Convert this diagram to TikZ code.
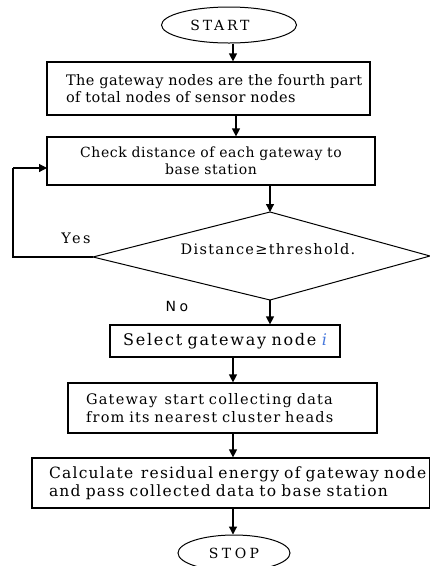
\documentclass[tikz,border=0pt]{standalone}
\usepackage{fontspec}
\setmainfont{DejaVu Serif}
\newfontfamily\labsans{DejaVu Sans}
\usetikzlibrary{arrows.meta,shapes.geometric}
\definecolor{iblue}{RGB}{70,120,220}
\newcommand{\fsz}[2]{\fontsize{#1}{17.5}\selectfont\addfontfeature{LetterSpace=#2}}
\tikzset{
  box/.style={draw=black,line width=1.2pt,rectangle,inner ysep=0pt},
  term/.style={draw=black,line width=1pt,ellipse,inner sep=0pt},
  arr/.style={draw=black,line width=1.2pt,-{Triangle[length=8pt,width=8pt]}},
  ln/.style={draw=black,line width=1.2pt},
  lab/.style={inner sep=0pt}
}
\begin{document}
\begin{tikzpicture}[x=1pt,y=-1pt]
\useasboundingbox (0,0) rectangle (430,566);
\fill[white] (0,0) rectangle (430,566);
\node[term,minimum width=135pt,minimum height=36pt,font=\fsz{14}{20}] (start) at (229,25) {START\hspace*{18pt}};
\node[box,inner xsep=19pt,text width=285pt,align=left,minimum height=53pt,font=\fsz{14.5}{3}] (b1) at (208.5,88.5)
  {\mbox{The gateway nodes are the fourth part}\\\mbox{of total nodes of sensor nodes}};
\node[box,inner xsep=16pt,text width=296pt,align=center,minimum height=48pt,font=\fsz{14}{4.5}] (b2) at (211,161)
  {Check distance of each gateway to\\base station};
\coordinate (dt) at (270,212);
\coordinate (dr) at (430,256);
\coordinate (db) at (270,300);
\coordinate (dl) at (93,257);
\draw[line width=1pt] (dt) -- (dr) -- (db) -- (dl) -- cycle;
\node[lab,font=\fsz{14.5}{9}] (dtxt) at (268,249) {Distance≥threshold.};
\node[lab,font=\fsz{14.5}{17}] (yes) at (76,238) {Yes};
\node[lab,font=\labsans\fontsize{14}{16}\selectfont\addfontfeature{LetterSpace=25}] (no) at (177,306) {No};
\node[box,inner xsep=8pt,text width=214pt,align=center,minimum height=32pt,font=\fsz{16}{11}] (sel) at (225,341)
  {Select gateway node {\color{iblue}\itshape i}};
\node[box,inner xsep=18pt,text width=273pt,align=left,minimum height=50pt,font=\fsz{14.5}{8.5}] (b3) at (222.5,408)
  {\mbox{Gateway\, start collecting data}\\\mbox{from its nearest cluster heads}};
\node[box,inner xsep=17pt,text width=364pt,align=left,minimum height=50pt,font=\fsz{15.5}{8}] (b4) at (231,483)
  {\mbox{Calculate\, residual energy of gateway node}\\\mbox{and pass collected data to base station}};
\node[term,minimum width=112pt,minimum height=36pt,font=\fsz{14}{25}] (stop) at (234,553) {STOP};
\coordinate (b2in) at (47,168);
\coordinate (lc1) at (13,257);
\coordinate (lc2) at (13,168);
\draw[arr] (start.south -| 233,0) -- (b1.north -| 233,0);
\draw[arr] (b1.south -| 236,0) -- (b2.north -| 236,0);
\draw[arr] (b2.south -| dt) -- (dt);
\draw[ln] (dl) -- (lc1) -- (lc2);
\draw[arr] (lc2) -- (b2in);
\draw[arr] (db) -- (sel.north -| db);
\draw[arr] (sel.south -| 233,0) -- (b3.north -| 233,0);
\draw[arr] (b3.south -| 233,0) -- (b4.north -| 233,0);
\draw[arr] (b4.south -| 233,0) -- (stop.north -| 233,0);
\end{tikzpicture}
\end{document}
